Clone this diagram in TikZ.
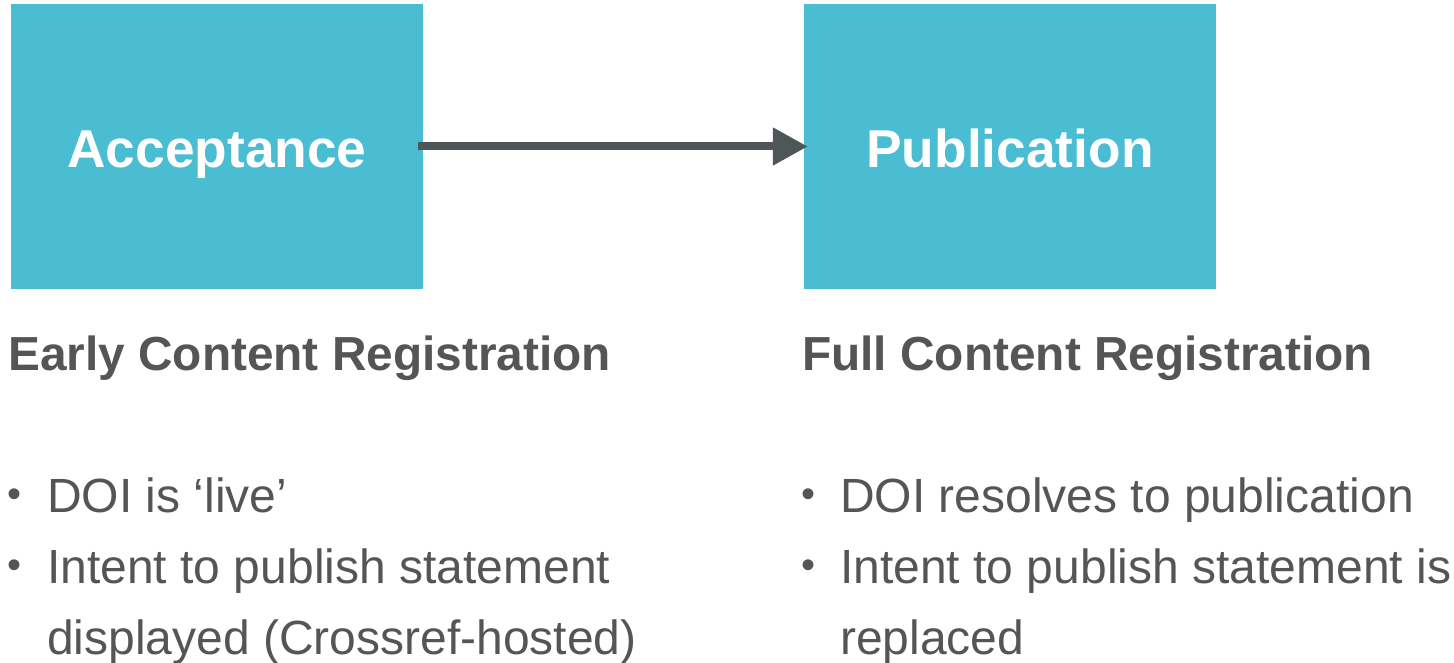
\documentclass[tikz,border=0pt]{standalone}
\usepackage{fontspec}
\setmainfont{Liberation Sans}
\usetikzlibrary{arrows.meta}
\definecolor{boxcol}{HTML}{4ABDD2}
\definecolor{txtcol}{HTML}{555555}
\definecolor{arrcol}{HTML}{4E5657}
\tikzset{
  stagebox/.style={rectangle, fill=boxcol, draw=none, minimum width=412pt, minimum height=285pt,
    inner sep=0pt, text=white, font=\fontsize{53.3}{60}\selectfont\bfseries, text height=43pt, text depth=0pt},
  heading/.style={anchor=base west, inner sep=0pt, text=txtcol, font=\fontsize{47.8}{56}\selectfont\bfseries},
  item/.style={anchor=base west, inner sep=0pt, text=txtcol, font=\fontsize{48}{71}\selectfont},
  bul/.style={anchor=base, inner sep=0pt, text=txtcol, font=\fontsize{40}{44}\selectfont},
  flow/.style={draw=arrcol, line width=8pt, -{Triangle[length=35pt 0 0, width=36pt 0 0]}}
}
\begin{document}
\begin{tikzpicture}[x=1pt,y=-1pt]
\useasboundingbox (0,0) rectangle (1454,663);
\node[stagebox] (acc) at (217,146.5) {Acceptance};
\node[stagebox] (pub) at (1010,146.5) {Publication};
\draw[flow] ([xshift=-5pt]acc.east) -- ([xshift=4pt]pub.west);

\node[heading] (h1) at (8,370) {Early Content Registration};
\node[heading] (h2) at (802,370) {Full Content Registration};

\node[bul] (b1) at (15,507) {•};
\node[item] (t1) at (47,512) {DOI is ‘live’};
\node[bul] (b2) at (15,578) {•};
\node[item] (t2) at (47,583) {Intent to publish statement};
\node[item] (t3) at (47,654) {displayed (Crossref-hosted)};

\node[bul] (b3) at (808,507) {•};
\node[item] (t4) at (840,512) {DOI resolves to publication};
\node[bul] (b4) at (808,578) {•};
\node[item] (t5) at (840,583) {Intent to publish statement is};
\node[item] (t6) at (840,654) {replaced};
\end{tikzpicture}
\end{document}
